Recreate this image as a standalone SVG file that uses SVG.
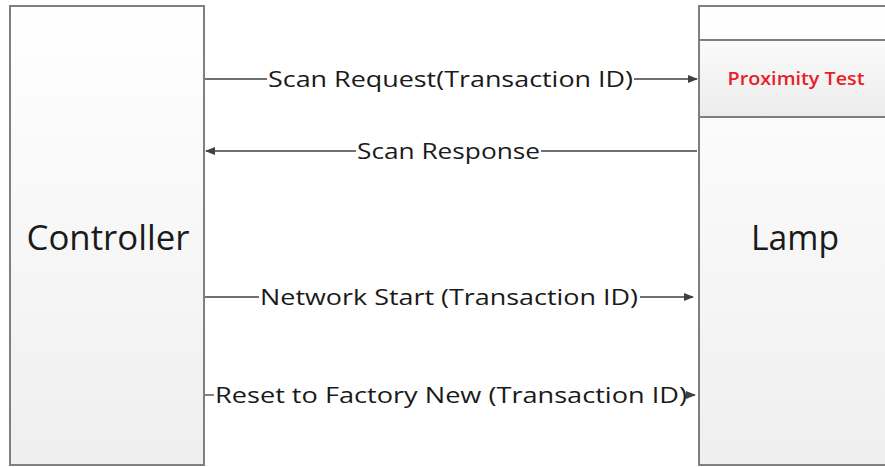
<svg xmlns="http://www.w3.org/2000/svg" width="885" height="467" viewBox="0 0 885 467">
<defs>
<linearGradient id="g1" x1="0" y1="0" x2="0" y2="1">
<stop offset="0" stop-color="#ffffff"/><stop offset="1" stop-color="#efefef"/>
</linearGradient>
<linearGradient id="g2" x1="0" y1="0" x2="0" y2="1">
<stop offset="0" stop-color="#fbfbfb"/><stop offset="1" stop-color="#ececec"/>
</linearGradient>
<marker id="ah" markerWidth="10" markerHeight="8" refX="9" refY="4" orient="auto" markerUnits="userSpaceOnUse">
<path d="M0,0 L10,4 L0,8 z" fill="#404040"/>
</marker>
</defs>
<style>
.box{stroke:#7f7f7f;stroke-width:2;}
.lbl{font-family:"Open Sans","Liberation Sans",sans-serif;fill:#1a1a1a;}
.big{font-size:34px;}
.msg{font-size:22px;}
.ln{stroke:#404040;stroke-width:1.3;fill:none;}
</style>
<rect width="885" height="467" fill="#ffffff"/>
<g id="controller">
<rect class="box" x="10" y="6" width="194" height="459" fill="url(#g1)"/>
<text class="lbl big" x="108" y="250" text-anchor="middle" textLength="163" lengthAdjust="spacingAndGlyphs">Controller</text>
</g>
<g id="lamp">
<rect class="box" x="699" y="6" width="195" height="459" fill="url(#g1)"/>
<rect class="box" x="699" y="40" width="195" height="77" fill="url(#g2)"/>
<text class="lbl" x="796" y="85" text-anchor="middle" font-size="18" textLength="137" lengthAdjust="spacingAndGlyphs" style="fill:#e8202a;font-weight:600">Proximity Test</text>
<text class="lbl big" x="795" y="250" text-anchor="middle" textLength="88" lengthAdjust="spacingAndGlyphs">Lamp</text>
</g>
<g id="connectors">
<line class="ln" x1="205" y1="79" x2="267" y2="79"/>
<line class="ln" x1="634" y1="79" x2="697" y2="79" marker-end="url(#ah)"/>
<text class="lbl msg" x="268" y="87" textLength="365" lengthAdjust="spacingAndGlyphs">Scan Request(Transaction ID)</text>
<line class="ln" x1="697" y1="151" x2="541" y2="151"/>
<line class="ln" x1="356" y1="151" x2="206" y2="151" marker-end="url(#ah)"/>
<text class="lbl msg" x="357" y="159" textLength="183" lengthAdjust="spacingAndGlyphs">Scan Response</text>
<line class="ln" x1="205" y1="297" x2="259" y2="297"/>
<line class="ln" x1="640" y1="297" x2="693" y2="297" marker-end="url(#ah)"/>
<text class="lbl msg" x="260" y="305" textLength="378" lengthAdjust="spacingAndGlyphs">Network Start (Transaction ID)</text>
<line class="ln" x1="205" y1="395" x2="214" y2="395"/>
<line class="ln" x1="689" y1="395" x2="695" y2="395" marker-end="url(#ah)"/>
<text class="lbl msg" x="215" y="403" textLength="472" lengthAdjust="spacingAndGlyphs">Reset to Factory New (Transaction ID)</text>
</g>
</svg>
